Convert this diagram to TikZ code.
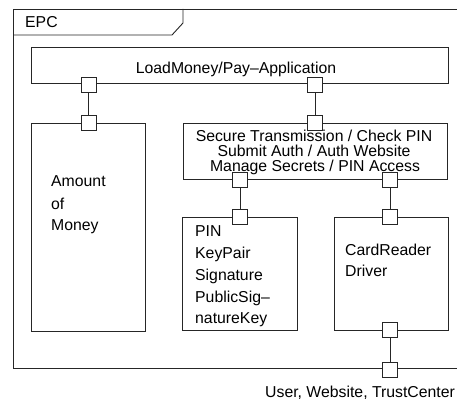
\documentclass[tikz,border=0pt]{standalone}
\usepackage{fontspec}
\setmainfont{Liberation Sans}
\begin{document}
\begin{tikzpicture}[x=1pt,y=-1pt,
  ln/.style={draw=black!85,line width=0.9pt},
  box/.style={ln,fill=white},
  port/.style={ln,fill=white,rectangle,minimum size=15pt,inner sep=0pt},
  txt/.style={inner sep=0pt,anchor=base west,font=\fontsize{15.8}{19}\selectfont},
  ctxt/.style={inner sep=0pt,anchor=base,font=\fontsize{15.8}{19}\selectfont}]
\useasboundingbox (0,0) rectangle (457,403);
% outer frame
\draw[ln] (460,9) -- (13,9) -- (13,368) -- (460,368);
\draw[ln] (13,35) -- (172,35) -- (183,23) -- (183,9);
\node[txt] (epc) at (25,28) {EPC};
% boxes
\draw[box] (31,47) rectangle (448,83);
\node[ctxt] (lm) at (236,74) {LoadMoney/Pay–Application};
\draw[box] (31,123) rectangle (145,331);
\node[txt] (am1) at (51,187) {Amount};
\node[txt] (am2) at (51,209) {of};
\node[txt] (am3) at (51,230) {Money};
\draw[box] (183,123) rectangle (447,179);
\node[ctxt] (s1) at (314,142) {Secure Transmission / Check PIN};
\node[ctxt] (s2) at (314,157) {Submit Auth / Auth Website};
\node[ctxt] (s3) at (315,172) {Manage Secrets / PIN Access};
\draw[box] (182,217) rectangle (297,330);
\node[txt] (k1) at (195,236) {PIN};
\node[txt] (k2) at (195,258) {KeyPair};
\node[txt] (k3) at (195,280) {Signature};
\node[txt] (k4) at (195,302) {PublicSig–};
\node[txt] (k5) at (195,323) {natureKey};
\draw[box] (334,217) rectangle (448,330);
\node[txt] (c1) at (345,255) {CardReader};
\node[txt] (c2) at (345,276) {Driver};
\node[txt] (ext) at (265,397) {User, Website, TrustCenter};
% ports
\node[port] (pl1) at (88.5,84.5) {};
\node[port] (pl2) at (315,84.5) {};
\node[port] (pa) at (88.5,123) {};
\node[port] (pst) at (315,123) {};
\node[port] (psl) at (240,180) {};
\node[port] (psr) at (390,180) {};
\node[port] (ppt) at (240,217) {};
\node[port] (pct) at (390,217) {};
\node[port] (pcb) at (390,330) {};
\node[port] (pf) at (390,369.5) {};
% connectors
\draw[ln] (pl1) -- (pa);
\draw[ln] (pl2) -- (pst);
\draw[ln] (psl) -- (ppt);
\draw[ln] (psr) -- (pct);
\draw[ln] (pcb) -- (pf);
\end{tikzpicture}
\end{document}
